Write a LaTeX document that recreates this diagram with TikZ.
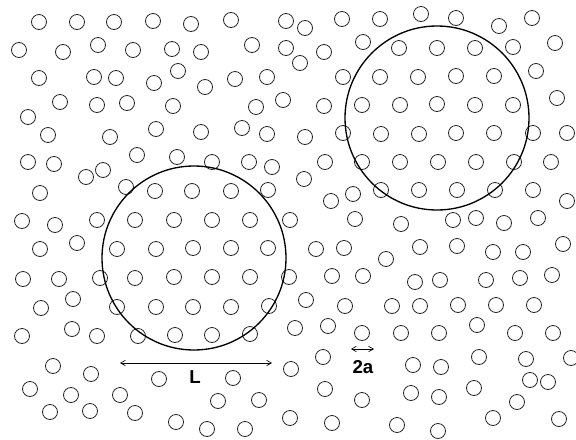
\documentclass[tikz,border=0pt]{standalone}
\usepackage{fontspec}
\setmainfont{Liberation Sans}
\usetikzlibrary{arrows.meta}
\begin{document}
\begin{tikzpicture}[x=0.75pt,y=-0.75pt,
  particle/.style={draw=black!85,line width=0.6pt},
  region/.style={draw=black,line width=1pt},
  measure/.style={draw=black,line width=0.5pt,{Straight Barb[length=3.5pt,width=4pt]}-{Straight Barb[length=3.5pt,width=4pt]}},
  lbl/.style={font=\fontsize{14}{16}\selectfont\bfseries,inner sep=0pt}]
\useasboundingbox (0,0) rectangle (576,440);
\foreach \x/\y in {
39/22,77/22,114/22,153/21,191/24,231/20,286/21,305/28,342/19,380/19,421/14,456/18,499/26,532/18,
19/50,63/52,98/45,133/50,172/49,201/52,252/45,286/48,324/52,363/42,399/48,437/48,475/48,513/47,555/43,
300/63,
39/78,94/77,116/78,178/71,154/83,205/87,235/79,267/77,343/77,380/77,418/77,456/76,494/76,536/71,
60/102,97/105,127/103,173/106,256/107,283/100,324/106,362/105,400/105,437/104,475/105,513/105,557/98,
28/117,
48/135,110/137,156/129,201/132,242/128,267/134,305/137,343/133,381/134,419/134,456/133,494/133,533/133,567/133,
28/162,54/164,86/177,103/170,137/155,177/157,212/162,249/162,272/167,325/162,362/162,400/162,438/162,476/162,514/162,551/162,
40/193,126/187,155/191,192/191,231/191,268/190,304/179,353/194,331/201,381/190,419/190,457/190,495/190,533/190,567/201,
22/221,55/225,97/220,135/220,174/220,212/220,250/220,290/220,355/219,401/224,453/220,476/218,504/223,538/218,
40/249,77/243,117/249,156/249,193/248,231/248,268/248,316/249,344/248,386/259,420/247,457/246,493/252,523/252,563/244,
23/279,59/279,100/278,135/278,174/277,212/277,250/277,289/277,332/276,363/276,415/282,440/280,486/280,520/278,552/275,
41/308,73/299,117/307,156/307,193/307,231/307,269/306,306/300,345/306,392/306,420/306,458/305,496/305,534/305,
22/336,72/329,97/336,138/336,175/335,212/335,250/334,295/328,328/326,362/333,401/333,439/333,477/325,515/333,553/333,
53/366,91/374,159/379,233/378,291/369,323/357,413/365,441/367,479/357,526/359,571/358,
30/389,71/395,120/395,218/401,259/400,325/389,362/400,411/393,474/388,530/380,548/382,439/397,
50/412,90/411,135/413,176/422,207/429,245/429,290/418,332/423,397/425,438/431,493/418,517/402,559/419}
  \draw[particle] (\x,\y) circle[radius=7.5];
\draw[region] (437,118) circle[radius=92];
\draw[region] (194,258) circle[radius=92];
\coordinate (LA) at (120,363);
\coordinate (LB) at (272,363);
\draw[measure] (LA) -- (LB);
\node[lbl] (Llabel) at (195,377) {L};
\coordinate (AA) at (351,349);
\coordinate (AB) at (374,349);
\draw[measure] (AA) -- (AB);
\node[lbl] (alabel) at (363,367) {2a};
\end{tikzpicture}
\end{document}
